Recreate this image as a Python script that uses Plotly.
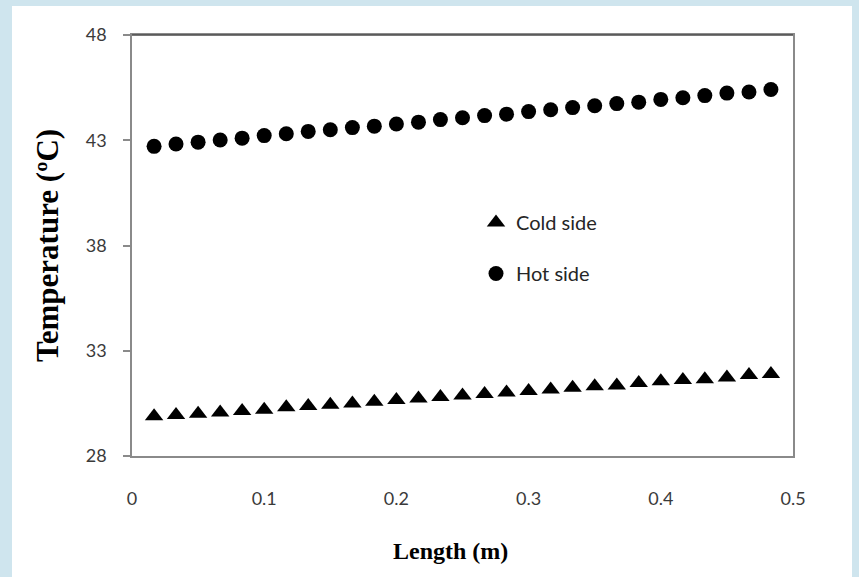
import plotly.graph_objects as go

# Data
length_m = [0.0167, 0.0333, 0.05, 0.0667, 0.0833, 0.1, 0.1167, 0.1333, 0.15, 0.1667,
            0.1833, 0.2, 0.2167, 0.2333, 0.25, 0.2667, 0.2833, 0.3, 0.3167, 0.3333,
            0.35, 0.3667, 0.3833, 0.4, 0.4167, 0.4333, 0.45, 0.4667, 0.4833]

hot_side = [42.71, 42.82, 42.91, 43.01, 43.10, 43.22, 43.31, 43.42, 43.50, 43.60,
            43.67, 43.77, 43.86, 43.98, 44.07, 44.17, 44.24, 44.36, 44.45, 44.55,
            44.64, 44.74, 44.81, 44.94, 45.02, 45.12, 45.24, 45.29, 45.41]

cold_side = [29.89, 29.95, 30.01, 30.07, 30.14, 30.20, 30.32, 30.37, 30.44, 30.50,
             30.58, 30.66, 30.73, 30.80, 30.88, 30.95, 31.02, 31.09, 31.16, 31.24,
             31.31, 31.35, 31.47, 31.55, 31.61, 31.65, 31.73, 31.85, 31.89]

x_ticks = [0, 0.1, 0.2, 0.3, 0.4, 0.5]
y_ticks = [28, 33, 38, 43, 48]

W, H = 859, 577
L, R, T, B = 132, 66, 35, 121
PW, PH = W - L - R, H - T - B

fig = go.Figure()
fig.add_trace(go.Scatter(
    x=length_m, y=cold_side, mode="markers", name="Cold side",
    legendgroup="cold",
    marker=dict(symbol="triangle-up", size=16, color="black"),
))
fig.add_trace(go.Scatter(
    x=length_m, y=hot_side, mode="markers", name="Hot side",
    legendgroup="hot",
    marker=dict(symbol="circle", size=15, color="black"),
))

tick_font = dict(family="Lato, 'Open Sans', sans-serif", size=18, color="#3a3a3a")
title_font = dict(family="'Liberation Serif', 'Times New Roman', serif", size=24, color="black")

fig.update_layout(
    width=W, height=H,
    margin=dict(l=L, r=R, t=T, b=B, autoexpand=False),
    paper_bgcolor="#cfe5ee",
    plot_bgcolor="white",
    showlegend=True,
    legend=dict(
        x=(476 - L) / PW, y=(H - B - 203) / PH,
        xanchor="left", yanchor="top",
        bgcolor="rgba(0,0,0,0)", borderwidth=0,
        traceorder="grouped", tracegroupgap=22,
        font=dict(family="Lato, 'Open Sans', sans-serif", size=20, color="#262626"),
    ),
    xaxis=dict(
        range=[0, 0.5], tickvals=x_ticks, ticktext=[str(v) for v in x_ticks],
        showgrid=False, zeroline=False,
        showline=True, linecolor="#8a8a8a", linewidth=1.5, mirror=True,
        ticks="", ticklabelstandoff=26,
        tickfont=tick_font,
    ),
    yaxis=dict(
        range=[28, 48], tickvals=y_ticks,
        showgrid=False, zeroline=False,
        showline=True, linecolor="#8a8a8a", linewidth=1.5, mirror=True,
        ticks="outside", ticklen=7, tickcolor="#8a8a8a", tickwidth=1.5,
        ticklabelstandoff=13,
        tickfont=tick_font,
        title=dict(text="<b>Temperature (ºC)</b>", font=dict(title_font, size=31), standoff=18),
    ),
    annotations=[
        dict(text="<b>Length (m)</b>", xref="paper", yref="paper",
             x=(450 - L) / PW, y=(H - B - 551) / PH,
             xanchor="center", yanchor="middle", showarrow=False,
             font=title_font),
    ],
    shapes=[
        # white page area inside the light blue frame
        dict(type="rect", xref="paper", yref="paper", layer="below",
             x0=(12 - L) / PW, x1=(852 - L) / PW,
             y0=(H - B - 577) / PH, y1=(H - B - 6) / PH,
             fillcolor="white", line=dict(width=0)),
        # darker top border line of the plot area
        dict(type="line", xref="paper", yref="paper",
             x0=0, x1=1, y0=1, y1=1, line=dict(color="#4a4a4a", width=1.5)),
    ],
)

fig.write_html("out.html")
